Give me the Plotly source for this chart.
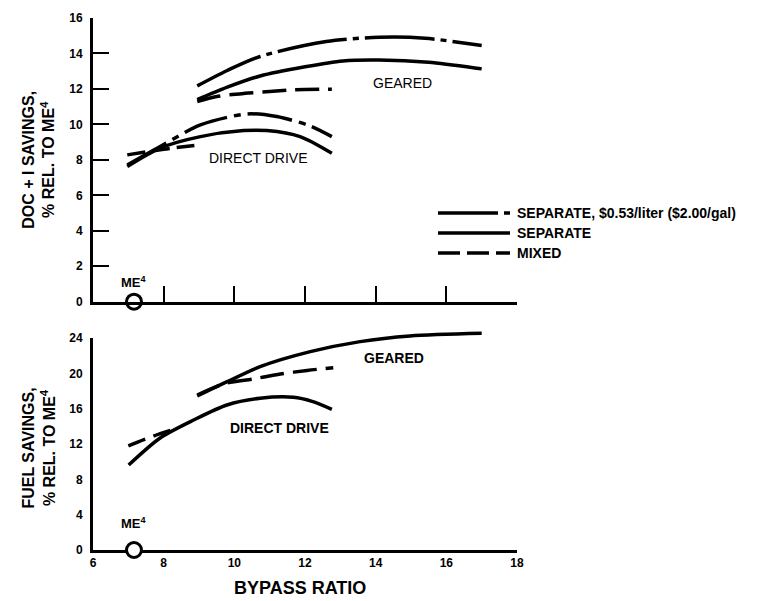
import plotly.graph_objects as go

# ---------------- data ----------------
# Top panel: DOC + I savings (%)
dd_doc_sep_fuel_x = [6.97, 7.9, 9.04, 10.36, 11.2, 12.14, 12.76]
dd_doc_sep_fuel_y = [7.71, 8.75, 9.97, 10.59, 10.44, 9.92, 9.31]
dd_doc_sep_x = [6.97, 7.9, 9.04, 10.26, 10.92, 11.86, 12.76]
dd_doc_sep_y = [7.62, 8.66, 9.31, 9.65, 9.65, 9.31, 8.37]
dd_doc_mix_x = [6.97, 8.0, 8.99]
dd_doc_mix_y = [8.28, 8.6, 8.84]

g_doc_sep_fuel_x = [8.95, 9.8, 10.73, 12.6, 14.1, 15.4, 16.85, 17.0]
g_doc_sep_fuel_y = [12.17, 13.04, 13.83, 14.67, 14.91, 14.86, 14.49, 14.45]
g_doc_sep_x = [8.95, 9.8, 10.73, 12.0, 13.07, 14.1, 15.5, 16.86, 17.0]
g_doc_sep_y = [11.4, 12.1, 12.73, 13.25, 13.58, 13.63, 13.5, 13.17, 13.13]
g_doc_mix_x = [8.95, 9.5, 10.3, 11.0, 11.7, 12.76]
g_doc_mix_y = [11.29, 11.57, 11.75, 11.85, 11.95, 11.98]

# Bottom panel: fuel savings (%)
dd_fuel_sep_x = [7.01, 7.9, 8.85, 9.79, 10.73, 11.67, 12.2, 12.76]
dd_fuel_sep_y = [9.64, 12.7, 14.74, 16.44, 17.2, 17.31, 16.85, 15.95]
dd_fuel_mix_x = [7.0, 7.7, 8.3]
dd_fuel_mix_y = [11.8, 12.9, 13.7]

g_fuel_sep_x = [8.95, 9.8, 10.73, 12.15, 13.56, 14.97, 17.0]
g_fuel_sep_y = [17.46, 19.08, 20.78, 22.48, 23.62, 24.26, 24.56]
g_fuel_mix_x = [8.95, 9.75, 10.55, 11.3, 12.06, 12.8]
g_fuel_mix_y = [17.57, 18.9, 19.4, 19.95, 20.35, 20.67]

me4_x = [7.16]
me4_y = [0]

x_ticks = [6, 8, 10, 12, 14, 16, 18]
doc_ticks = [0, 2, 4, 6, 8, 10, 12, 14, 16]
fuel_ticks = [0, 4, 8, 12, 16, 20, 24]

legend_labels = ["SEPARATE, $0.53/liter ($2.00/gal)", "SEPARATE", "MIXED"]
doc_title = "DOC + I SAVINGS,<br>% REL. TO ME<sup>4</sup>"
fuel_title = "FUEL SAVINGS,<br>% REL. TO ME<sup>4</sup>"
x_title = "BYPASS RATIO"

# ---------------- styles ----------------
FONT = "Liberation Sans, Arial, sans-serif"
LW = 3.5
DASHDOT = "70px,6px,6px,6px"
DASHDOT_DD = "45px,7px,7px,7px"
MIXED = "24px,9px"

# the page adds an 8px body margin; figure sized to fit the window
W, H = 767, 593
ML, MR, MT, MB = 85, 258, 10, 51
Y1_DOM = [0.4667, 1.0]
Y2_DOM = [0.0, 0.398]
FUEL_MAX = 24
FUEL_EXT = 25  # taller invisible twin axis so the curve above 24 is not clipped

fig = go.Figure()


def add_line(x, y, dash, xa, ya):
    fig.add_trace(go.Scatter(
        x=x, y=y, mode="lines", xaxis=xa, yaxis=ya,
        line=dict(color="black", width=LW, dash=dash, shape="spline", smoothing=0.8),
        hoverinfo="skip", showlegend=False))


# top
add_line(g_doc_sep_fuel_x, g_doc_sep_fuel_y, DASHDOT, "x", "y")
add_line(g_doc_sep_x, g_doc_sep_y, "solid", "x", "y")
add_line(g_doc_mix_x, g_doc_mix_y, MIXED, "x", "y")
add_line(dd_doc_sep_fuel_x, dd_doc_sep_fuel_y, DASHDOT_DD, "x", "y")
add_line(dd_doc_sep_x, dd_doc_sep_y, "solid", "x", "y")
add_line(dd_doc_mix_x, dd_doc_mix_y, "18px,7px", "x", "y")
# bottom (on twin axis y3 with identical scale)
add_line(g_fuel_sep_x, g_fuel_sep_y, "solid", "x2", "y3")
add_line(g_fuel_mix_x, g_fuel_mix_y, MIXED, "x2", "y3")
add_line(dd_fuel_sep_x, dd_fuel_sep_y, "solid", "x2", "y3")
add_line(dd_fuel_mix_x, dd_fuel_mix_y, "18px,9px", "x2", "y3")

# ME4 reference circles
for xa, ya in (("x", "y"), ("x2", "y3")):
    fig.add_trace(go.Scatter(
        x=me4_x, y=me4_y, mode="markers", xaxis=xa, yaxis=ya, cliponaxis=False,
        marker=dict(size=15, color="white", line=dict(color="black", width=3)),
        hoverinfo="skip", showlegend=False))

axis_common = dict(
    showline=True, linecolor="black", linewidth=3, mirror=False,
    ticks="inside", tickcolor="black", tickwidth=2,
    showgrid=False, zeroline=False, automargin=False,
    tickfont=dict(family=FONT, size=12, color="black", weight="bold"),
)

y3_top = Y2_DOM[0] + (Y2_DOM[1] - Y2_DOM[0]) * FUEL_EXT / FUEL_MAX

fig.update_layout(
    width=W, height=H,
    margin=dict(l=ML, r=MR, t=MT, b=MB, autoexpand=False),
    paper_bgcolor="white", plot_bgcolor="white",
    showlegend=False,
    xaxis=dict(axis_common, domain=[0, 1], anchor="y", range=[6, 18],
               tickvals=x_ticks, showticklabels=False, ticklen=16),
    yaxis=dict(axis_common, domain=Y1_DOM, anchor="x", range=[0, 16],
               tickvals=doc_ticks, ticklen=16, ticklabelstandoff=5),
    xaxis2=dict(axis_common, domain=[0, 1], anchor="y2", range=[6, 18],
                tickvals=x_ticks, ticklen=16, ticklabelstandoff=0),
    yaxis2=dict(axis_common, domain=Y2_DOM, anchor="x2", range=[0, FUEL_MAX],
                tickvals=fuel_ticks, ticklen=16, ticklabelstandoff=5),
    yaxis3=dict(domain=[Y2_DOM[0], y3_top], anchor="x2", range=[0, FUEL_EXT],
                visible=False, showgrid=False, zeroline=False, automargin=False),
)

ann = []
# y-axis titles
ann.append(dict(text=doc_title, xref="paper", yref="paper", x=-0.128, y=0.733,
                xanchor="center", yanchor="middle", textangle=-90, showarrow=False,
                font=dict(family=FONT, size=16, color="black", weight="bold")))
ann.append(dict(text=fuel_title, xref="paper", yref="paper", x=-0.128, y=0.192,
                xanchor="center", yanchor="middle", textangle=-90, showarrow=False,
                font=dict(family=FONT, size=16, color="black", weight="bold")))
ann.append(dict(text=x_title, xref="paper", yref="paper", x=0.488, y=-0.071,
                xanchor="center", yanchor="middle", showarrow=False,
                font=dict(family=FONT, size=18, color="black", weight="bold")))

# curve labels
for t, x, y, xr, yr, bold in (("GEARED", 14.76, 12.34, "x", "y", False),
                               ("DIRECT DRIVE", 10.67, 8.1, "x", "y", False),
                               ("GEARED", 14.53, 21.8, "x2", "y2", True),
                               ("DIRECT DRIVE", 11.28, 13.8, "x2", "y2", True)):
    ann.append(dict(text=t, x=x, y=y, xref=xr, yref=yr, showarrow=False,
                    xanchor="center", yanchor="middle",
                    font=dict(family=FONT, size=14, color="black",
                              weight="bold" if bold else "normal")))

# ME4 labels
ann.append(dict(text="ME<sup>4</sup>", x=me4_x[0], y=0, xref="x", yref="y", showarrow=False,
                yshift=20, font=dict(family=FONT, size=13, color="black", weight="bold")))
ann.append(dict(text="ME<sup>4</sup>", x=me4_x[0], y=0, xref="x2", yref="y2", showarrow=False,
                yshift=27, font=dict(family=FONT, size=13, color="black", weight="bold")))

# legend (drawn manually)
leg_y = [0.6335, 0.5959, 0.5583]
leg_dash = ["60px,6px,6px,6px", "solid", "22px,7px"]
shapes = []
for lbl, yy, d in zip(legend_labels, leg_y, leg_dash):
    shapes.append(dict(type="line", xref="paper", yref="paper",
                       x0=0.8137, x1=0.9835, y0=yy, y1=yy,
                       line=dict(color="black", width=LW, dash=d)))
    ann.append(dict(text=lbl, xref="paper", yref="paper", x=0.995, y=yy,
                    xanchor="left", yanchor="middle", showarrow=False,
                    font=dict(family=FONT, size=14, color="black", weight="bold")))

fig.update_layout(annotations=ann, shapes=shapes)

fig.write_html("out.html")
